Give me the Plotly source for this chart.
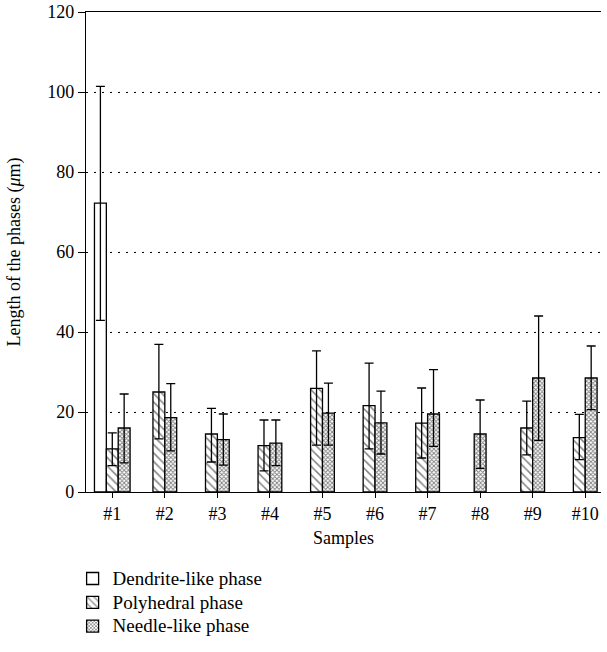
import plotly.graph_objects as go

samples = ["#1", "#2", "#3", "#4", "#5", "#6", "#7", "#8", "#9", "#10"]

dendrite = [72.2, None, None, None, None, None, None, None, None, None]
dendrite_plus = [29.2, None, None, None, None, None, None, None, None, None]
dendrite_minus = [29.3, None, None, None, None, None, None, None, None, None]

polyhedral = [10.8, 25.0, 14.5, 11.6, 25.9, 21.6, 17.2, None, 16.0, 13.6]
polyhedral_plus = [4.0, 11.9, 6.4, 6.4, 9.4, 10.6, 8.8, None, 6.7, 5.8]
polyhedral_minus = [4.2, 11.7, 7.0, 6.3, 14.2, 10.8, 8.7, None, 6.7, 5.5]

needle = [16.0, 18.6, 13.1, 12.2, 19.7, 17.3, 19.5, 14.5, 28.5, 28.5]
needle_plus = [8.5, 8.5, 6.4, 5.8, 7.5, 7.9, 11.1, 8.5, 15.5, 8.0]
needle_minus = [8.7, 8.3, 6.4, 5.6, 8.0, 7.8, 8.1, 8.6, 15.6, 7.9]

series = [
    ("Dendrite-like phase", dendrite, dendrite_plus, dendrite_minus,
     dict(color="white", line=dict(color="black", width=1.3))),
    ("Polyhedral phase", polyhedral, polyhedral_plus, polyhedral_minus,
     dict(color="white", line=dict(color="black", width=1.3),
          pattern=dict(shape="\\", fgcolor="black", bgcolor="white", size=6, solidity=0.25))),
    ("Needle-like phase", needle, needle_plus, needle_minus,
     dict(color="white", line=dict(color="black", width=1.3),
          pattern=dict(shape="x", fgcolor="black", bgcolor="white", size=3, solidity=0.5))),
]

BAR_W = 0.226
# compute offsets so that bars present in each category are centered on its tick
offsets = {name: [] for name, *_ in series}
for i in range(len(samples)):
    present = [name for name, vals, *_ in series if vals[i] is not None]
    n = len(present)
    for name, vals, *_ in series:
        if vals[i] is None:
            offsets[name].append(0)
        else:
            k = present.index(name)
            offsets[name].append(-n * BAR_W / 2 + k * BAR_W)

fig = go.Figure()
for name, vals, plus, minus, marker in series:
    fig.add_trace(go.Bar(
        name="<span style='font-size:19px'>" + name + "</span>",
        x=samples, y=vals,
        offset=offsets[name], width=[BAR_W] * len(samples),
        marker=marker,
        error_y=dict(type="data", symmetric=False, array=plus, arrayminus=minus,
                     color="black", thickness=1.3, width=4.5),
    ))

font_family = "Liberation Serif, DejaVu Serif, serif"
fig.update_layout(
    width=607, height=652,
    barmode="overlay",
    plot_bgcolor="white", paper_bgcolor="white",
    margin=dict(l=86, r=6, t=12, b=159.5),
    font=dict(family=font_family, size=18, color="black"),
    showlegend=True,
    legend=dict(x=-0.026, y=-0.145, xanchor="left", yanchor="top",
                orientation="v", font=dict(size=16), tracegroupgap=0,
                itemwidth=30, bgcolor="rgba(0,0,0,0)"),
    xaxis=dict(
        type="category", range=[-0.5, 9.3], automargin=False,
        showline=True, linecolor="black", linewidth=1.3, mirror=True,
        ticks="outside", ticklen=5, tickcolor="black",
        tickfont=dict(size=18),
        showgrid=False, zeroline=False,
        title=dict(text="Samples", font=dict(size=18), standoff=8),
    ),
    yaxis=dict(
        range=[0, 120], dtick=20, automargin=False,
        showline=True, linecolor="black", linewidth=1.3,
        ticks="outside", ticklen=7, tickcolor="black",
        tickfont=dict(size=18),
        showgrid=True, gridcolor="black", gridwidth=1, griddash="2px,6px",
        zeroline=False,
        title=dict(text="Length of the phases (<i>μ</i>m)", font=dict(size=18), standoff=21),
    ),
)

fig.write_html("out.html", config={"displayModeBar": False},
               post_script="document.body.style.margin='0';")
